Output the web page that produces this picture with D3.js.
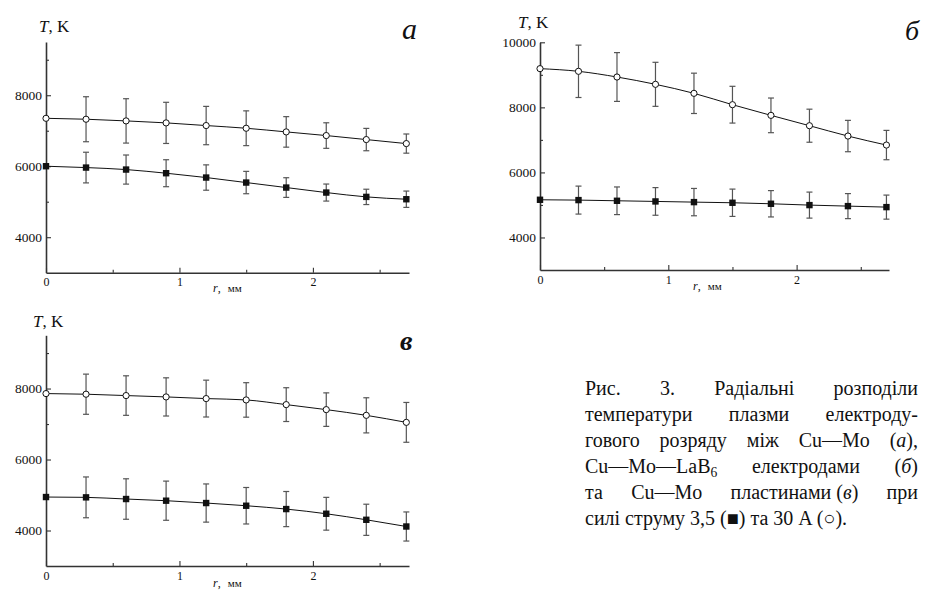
<!DOCTYPE html>
<html><head><meta charset="utf-8">
<script src="https://cdn.jsdelivr.net/npm/d3@7"></script>
<style>
body{margin:0;background:#fff}
svg{display:block}
</style>
</head><body>
<svg id="c" width="926" height="590"></svg>
<script>
// ---- data ----
const radius = [0, 0.3, 0.6, 0.9, 1.2, 1.5, 1.8, 2.1, 2.4, 2.7];
// panel а
const aHot     = [7350, 7324, 7277, 7221, 7146, 7070, 6967, 6864, 6751, 6638];
const aHotErr  = [0, 634, 625, 580, 540, 490, 430, 360, 315, 270];
const aCold    = [6000, 5962, 5906, 5803, 5681, 5540, 5399, 5258, 5136, 5070];
const aColdErr = [0, 432, 410, 380, 357, 315, 277, 240, 216, 230];
// panel б
const bHot     = [9190, 9108, 8933, 8708, 8431, 8082, 7754, 7436, 7118, 6841];
const bHotErr  = [0, 805, 750, 677, 620, 565, 533, 508, 482, 451];
const bCold    = [5159, 5149, 5128, 5108, 5087, 5067, 5036, 4995, 4964, 4933];
const bColdErr = [0, 430, 425, 425, 420, 420, 405, 400, 385, 370];
// panel в
const vHot     = [7858, 7840, 7802, 7764, 7717, 7679, 7547, 7406, 7245, 7047];
const vHotErr  = [0, 566, 557, 538, 519, 486, 476, 472, 495, 561];
const vCold    = [4943, 4934, 4887, 4840, 4774, 4698, 4604, 4472, 4302, 4113];
const vColdErr = [0, 575, 570, 552, 538, 514, 495, 462, 439, 410];
// ticks
const xTickValues = [0, 1, 2];
const xMinorTicks = [0.5, 1.5, 2.5];
const yTicksAV = [4000, 6000, 8000];
const yTicksB  = [4000, 6000, 8000, 10000];
const yMinorTicks = [5000, 7000, 9000];
const xDomain = [0, 2.72];
const yDomainAV = [3000, 9500];
const yDomainB  = [3000, 10000];

// caption (words; segment kinds: "" normal, "i" italic, "s" subscript)
const captionLines = [
  [[["Рис.",""]],[["3.",""]],[["Радіальні",""]],[["розподіли",""]]],
  [[["температури",""]],[["плазми",""]],[["електроду-",""]]],
  [[["гового",""]],[["розряду",""]],[["між",""]],[["Cu—Mo",""]],[["(",""],["а","i"],["),",""]]],
  [[["Cu—Mo—LaB",""],["6","s"]],[["електродами",""]],[["(",""],["б","i"],[")",""]]],
  [[["та",""]],[["Cu—Mo",""]],[["пластинами (",""],["в","i"],[")",""]],[["при",""]]]
];
const captionLast = "силі струму 3,5 (■) та 30 A (○).";

// ---- layout ----
const FONT = '"Liberation Serif"';
const panels = [
  {hot:aHot, hotErr:aHotErr, cold:aCold, coldErr:aColdErr, x0:46, x1:409, yTop:42, yBot:272.7,
   yDom:yDomainAV, yTicks:yTicksAV, letter:"а", lx:402, ly:39, lsize:30, lweight:"normal",
   tkx:39, tky:32, rx:213, ry:292},
  {hot:bHot, hotErr:bHotErr, cold:bCold, coldErr:bColdErr, x0:540, x1:889, yTop:42.3, yBot:270,
   yDom:yDomainB, yTicks:yTicksB, letter:"б", lx:905, ly:40, lsize:28, lweight:"normal",
   tkx:518, tky:28, rx:693, ry:290},
  {hot:vHot, hotErr:vHotErr, cold:vCold, coldErr:vColdErr, x0:46, x1:409, yTop:335.3, yBot:566,
   yDom:yDomainAV, yTicks:yTicksAV, letter:"в", lx:400, ly:350, lsize:28, lweight:"bold",
   tkx:33, tky:327, rx:213, ry:587}
];

const svg = d3.select("#c").style("font-family", FONT);
const axisColor = "#333";

panels.forEach(p => {
  const x = d3.scaleLinear().domain(xDomain).range([p.x0, p.x1]);
  const y = d3.scaleLinear().domain(p.yDom).range([p.yBot, p.yTop]);
  const g = svg.append("g");

  // minor ticks
  const gxm = g.append("g").attr("transform", `translate(0,${p.yBot})`)
    .call(d3.axisBottom(x).tickValues(xMinorTicks).tickSizeInner(-3).tickSizeOuter(0).tickFormat(""));
  gxm.select(".domain").remove();
  const gym = g.append("g").attr("transform", `translate(${p.x0},0)`)
    .call(d3.axisLeft(y).tickValues(yMinorTicks).tickSizeInner(-3).tickSizeOuter(0).tickFormat(""));
  gym.select(".domain").remove();

  // major axes
  const gx = g.append("g").attr("transform", `translate(0,${p.yBot})`)
    .call(d3.axisBottom(x).tickValues(xTickValues).tickSizeInner(-5).tickSizeOuter(0).tickPadding(5).tickFormat(d3.format("d")));
  gx.attr("font-family", null);
  gx.selectAll("text").style("font-family", FONT).attr("font-size", 12).attr("fill", "#111");
  const gy = g.append("g").attr("transform", `translate(${p.x0},0)`)
    .call(d3.axisLeft(y).tickValues(p.yTicks).tickSizeInner(-5).tickSizeOuter(0).tickPadding(4).tickFormat(d3.format("d")));
  gy.attr("font-family", null);
  gy.selectAll("text").style("font-family", FONT).attr("font-size", 13.5).attr("fill", "#111");
  g.selectAll(".domain").attr("stroke", axisColor).attr("stroke-width", 1.6);
  g.selectAll(".tick line").attr("stroke", axisColor).attr("stroke-width", 1.1);

  // series
  const series = [
    {vals:p.cold, err:p.coldErr, filled:true},
    {vals:p.hot, err:p.hotErr, filled:false}
  ];
  series.forEach(s => {
    const pts = radius.map((r, i) => ({r, t:s.vals[i], e:s.err[i]}));
    const eb = g.append("g").attr("stroke", "#555").attr("stroke-width", 1.2).attr("fill", "none");
    pts.filter(d => d.e > 0).forEach(d => {
      const cx = x(d.r), yt = y(d.t + d.e), yb = y(d.t - d.e);
      eb.append("line").attr("x1", cx).attr("x2", cx).attr("y1", yt).attr("y2", yb);
      eb.append("line").attr("x1", cx - 3).attr("x2", cx + 3).attr("y1", yt).attr("y2", yt);
      eb.append("line").attr("x1", cx - 3).attr("x2", cx + 3).attr("y1", yb).attr("y2", yb);
    });
    g.append("path").datum(pts)
      .attr("d", d3.line().x(d => x(d.r)).y(d => y(d.t)).curve(d3.curveMonotoneX))
      .attr("fill", "none").attr("stroke", "#111").attr("stroke-width", 1);
    if (s.filled) {
      g.selectAll(null).data(pts).join("rect")
        .attr("x", d => x(d.r) - 3.2).attr("y", d => y(d.t) - 3.2)
        .attr("width", 6.4).attr("height", 6.4).attr("fill", "#111");
    } else {
      g.selectAll(null).data(pts).join("circle")
        .attr("cx", d => x(d.r)).attr("cy", d => y(d.t)).attr("r", 3.1)
        .attr("fill", "#fff").attr("stroke", "#111").attr("stroke-width", 1);
    }
  });

  // labels
  const tk = g.append("text").style("font-family", FONT).attr("x", p.tkx).attr("y", p.tky).attr("font-size", 17).attr("fill", "#111");
  tk.append("tspan").attr("font-style", "italic").text("T");
  tk.append("tspan").text(", K");

  const rl = g.append("text").style("font-family", FONT).attr("x", p.rx).attr("y", p.ry).attr("font-size", 12).attr("fill", "#111");
  rl.append("tspan").attr("font-style", "italic").text("r");
  rl.append("tspan").text(",");
  rl.append("tspan").attr("dx", 7).attr("font-size", 11).text("мм");

  g.append("text").style("font-family", FONT).attr("x", p.lx).attr("y", p.ly).attr("font-size", p.lsize)
    .attr("font-style", "italic").attr("font-weight", p.lweight).attr("fill", "#111").text(p.letter);
});

// ---- caption ----
const capX0 = 585, capX1 = 918, capY0 = 395, capDY = 26, capSize = 20;
function addWord(parent, segs, xpos, ypos) {
  const t = parent.append("text").style("font-family", FONT).attr("x", xpos).attr("y", ypos)
    .attr("font-size", capSize).attr("fill", "#111");
  segs.forEach(([txt, kind]) => {
    const ts = t.append("tspan").text(txt);
    if (kind === "i") ts.attr("font-style", "italic");
    if (kind === "s") ts.attr("font-size", capSize * 0.68).attr("dy", 4);
  });
  return t;
}
const cap = svg.append("g");
captionLines.forEach((words, li) => {
  const yy = capY0 + li * capDY;
  const nodes = words.map(w => addWord(cap, w, 0, yy));
  const widths = nodes.map(n => n.node().getComputedTextLength());
  const total = d3.sum(widths);
  const gap = (capX1 - capX0 - total) / (words.length - 1);
  let cx = capX0;
  nodes.forEach((n, i) => { n.attr("x", cx); cx += widths[i] + gap; });
});
cap.append("text").style("font-family", FONT).attr("x", capX0).attr("y", capY0 + 5 * capDY)
  .attr("font-size", capSize).attr("fill", "#111").text(captionLast);
</script>
</body></html>
